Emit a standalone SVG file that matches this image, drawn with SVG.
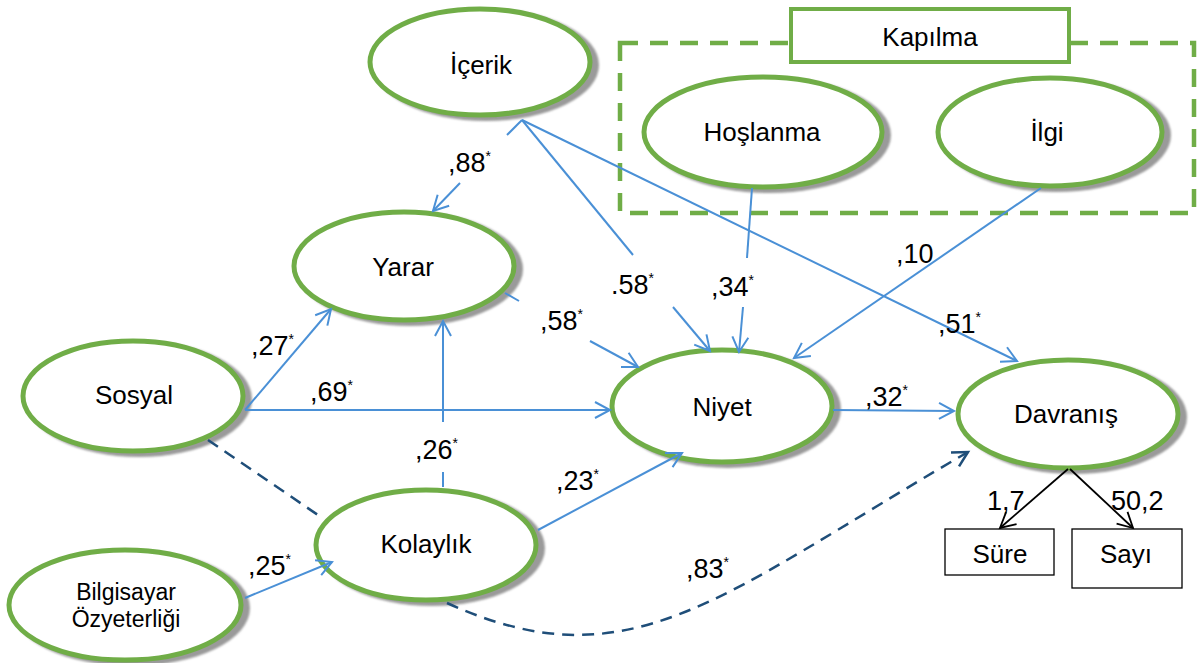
<svg xmlns="http://www.w3.org/2000/svg" width="1198" height="663" viewBox="0 0 1198 663">
<style>
.nd{fill:#fff;stroke:#70AD47;stroke-width:5}
.sh{fill:#9A9A9A;filter:url(#blur)}
.t{font-family:"Liberation Sans",Arial,sans-serif;font-size:26px;fill:#000;text-anchor:middle}
.tb{font-family:"Liberation Sans",Arial,sans-serif;font-size:23px;fill:#000;text-anchor:middle}
.lb{font-family:"Liberation Sans",Arial,sans-serif;font-size:27px;fill:#000}
.sup{font-size:14px}
.c{fill:none;stroke:#4A90D6;stroke-width:2}
.d{fill:none;stroke:#1F4E79;stroke-width:2.5;stroke-dasharray:12 8}
.k{fill:none;stroke:#000;stroke-width:1.8}
.box{fill:#fff;stroke:#000;stroke-width:1.3}
</style>
<defs>
<filter id="blur" x="-10%" y="-10%" width="120%" height="120%"><feGaussianBlur stdDeviation="1.2"/></filter>
<marker id="ab" markerUnits="userSpaceOnUse" viewBox="-20 -12 24 24" markerWidth="24" markerHeight="24" refX="0" refY="0" orient="auto" overflow="visible"><path d="M-15,-8 L0,0 L-15,8" fill="none" stroke="#4A90D6" stroke-width="2"/></marker>
<marker id="ad" markerUnits="userSpaceOnUse" viewBox="-20 -12 24 24" markerWidth="24" markerHeight="24" refX="0" refY="0" orient="auto" overflow="visible"><path d="M-15,-8 L0,0 L-15,8" fill="none" stroke="#1F4E79" stroke-width="2.5"/></marker>
<marker id="ak" markerUnits="userSpaceOnUse" viewBox="-20 -12 24 24" markerWidth="24" markerHeight="24" refX="0" refY="0" orient="auto" overflow="visible"><path d="M-15,-8 L0,0 L-15,8" fill="none" stroke="#000" stroke-width="1.8"/></marker>
</defs>
<rect width="1198" height="663" fill="#fff"/>

<g id="kapilma-group">
<rect x="620" y="43" width="574" height="170" fill="none" stroke="#70AD47" stroke-width="4.5" stroke-dasharray="18 12"/>
<rect x="791" y="9" width="278" height="53" fill="#fff" stroke="#70AD47" stroke-width="4"/>
<text class="t" x="930" y="46">Kapılma</text>
</g>

<g id="n-icerik"><ellipse class="sh" cx="486" cy="65" rx="113" ry="56"/><ellipse class="nd" cx="480" cy="62" rx="110" ry="53"/><text class="t" x="481" y="74">İçerik</text></g>
<g id="n-hoslanma"><ellipse class="sh" cx="769" cy="135" rx="122" ry="58"/><ellipse class="nd" cx="763" cy="132" rx="119" ry="55"/><text class="t" x="762" y="141">Hoşlanma</text></g>
<g id="n-ilgi"><ellipse class="sh" cx="1056" cy="135" rx="115" ry="57"/><ellipse class="nd" cx="1050" cy="132" rx="112" ry="54"/><text class="t" x="1047" y="141">İlgi</text></g>
<g id="n-yarar"><ellipse class="sh" cx="410" cy="269" rx="113" ry="57"/><ellipse class="nd" cx="404" cy="266" rx="110" ry="54"/><text class="t" x="403" y="276">Yarar</text></g>
<g id="n-sosyal"><ellipse class="sh" cx="139" cy="399" rx="113" ry="58"/><ellipse class="nd" cx="133" cy="396" rx="110" ry="55"/><text class="t" x="134" y="404">Sosyal</text></g>
<g id="n-niyet"><ellipse class="sh" cx="728" cy="409" rx="113" ry="59"/><ellipse class="nd" cx="722" cy="406" rx="110" ry="56"/><text class="t" x="722" y="416">Niyet</text></g>
<g id="n-davranis"><ellipse class="sh" cx="1074" cy="417" rx="113" ry="57"/><ellipse class="nd" cx="1068" cy="414" rx="110" ry="54"/><text class="t" x="1066" y="423">Davranış</text></g>
<g id="n-kolaylik"><ellipse class="sh" cx="432" cy="548" rx="113" ry="58"/><ellipse class="nd" cx="426" cy="545" rx="110" ry="55"/><text class="t" x="426" y="553">Kolaylık</text></g>
<g id="n-bilgisayar"><ellipse class="sh" cx="131" cy="608" rx="119" ry="58"/><ellipse class="nd" cx="125" cy="605" rx="116" ry="55"/><text class="tb" x="126" y="600">Bilgisayar</text><text class="tb" x="126" y="627">Özyeterliği</text></g>
<g id="n-sure"><rect class="box" x="945" y="529" width="109" height="46"/><text class="t" x="1000" y="563">Süre</text></g>
<g id="n-sayi"><rect class="box" x="1072" y="529" width="110" height="59"/><text class="t" x="1126" y="563">Sayı</text></g>

<g id="connectors">
<line class="c" x1="522" y1="120" x2="507" y2="135"/>
<line class="c" x1="460" y1="183" x2="433" y2="211" marker-end="url(#ab)"/>
<line class="c" x1="522" y1="120" x2="633" y2="255"/>
<line class="c" x1="673" y1="307" x2="710" y2="351" marker-end="url(#ab)"/>
<line class="c" x1="522" y1="120" x2="1017" y2="361" marker-end="url(#ab)"/>
<line class="c" x1="752" y1="188" x2="747" y2="258"/>
<line class="c" x1="743" y1="307" x2="739" y2="352" marker-end="url(#ab)"/>
<line class="c" x1="1041" y1="188" x2="794" y2="358" marker-end="url(#ab)"/>
<line class="c" x1="505" y1="293" x2="519" y2="301"/>
<line class="c" x1="590" y1="341" x2="638" y2="367" marker-end="url(#ab)"/>
<line class="c" x1="245" y1="410" x2="331" y2="309" marker-end="url(#ab)"/>
<line class="c" x1="245" y1="410" x2="610" y2="410" marker-end="url(#ab)"/>
<line class="c" x1="443" y1="487" x2="443" y2="472"/>
<line class="c" x1="443" y1="422" x2="443" y2="321" marker-end="url(#ab)"/>
<line class="c" x1="538" y1="530" x2="682" y2="453" marker-end="url(#ab)"/>
<line class="c" x1="245" y1="598" x2="332" y2="562" marker-end="url(#ab)"/>
<line class="c" x1="833" y1="410" x2="954" y2="411" marker-end="url(#ab)"/>
<line class="d" x1="208" y1="440" x2="318" y2="515"/>
<path class="d" d="M447,603 C630,686 718,597 968,452" marker-end="url(#ad)"/>
<line class="k" x1="1068" y1="469" x2="1000" y2="528" marker-end="url(#ak)"/>
<line class="k" x1="1070" y1="469" x2="1133" y2="528" marker-end="url(#ak)"/>
</g>

<g id="labels">
<text class="lb" x="448" y="172">,88<tspan class="sup" dy="-11">*</tspan></text>
<text class="lb" x="611" y="294">.58<tspan class="sup" dy="-11">*</tspan></text>
<text class="lb" x="711" y="296">,34<tspan class="sup" dy="-11">*</tspan></text>
<text class="lb" x="896" y="263">,10</text>
<text class="lb" x="938" y="333">,51<tspan class="sup" dy="-11">*</tspan></text>
<text class="lb" x="540" y="330">,58<tspan class="sup" dy="-11">*</tspan></text>
<text class="lb" x="251" y="355">,27<tspan class="sup" dy="-11">*</tspan></text>
<text class="lb" x="310" y="401">,69<tspan class="sup" dy="-11">*</tspan></text>
<text class="lb" x="415" y="459">,26<tspan class="sup" dy="-11">*</tspan></text>
<text class="lb" x="556" y="490">,23<tspan class="sup" dy="-11">*</tspan></text>
<text class="lb" x="248" y="575">,25<tspan class="sup" dy="-11">*</tspan></text>
<text class="lb" x="865" y="406">,32<tspan class="sup" dy="-11">*</tspan></text>
<text class="lb" x="686" y="578">,83<tspan class="sup" dy="-11">*</tspan></text>
<text class="lb" x="987" y="510">1,7</text>
<text class="lb" x="1111" y="510">50,2</text>
</g>
</svg>
